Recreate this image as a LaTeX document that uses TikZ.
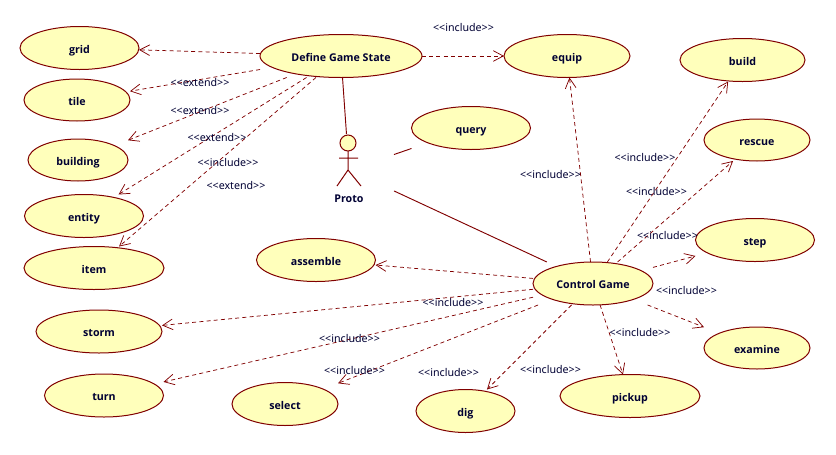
\documentclass[tikz,border=0pt]{standalone}
\usepackage{fontspec}
\setmainfont{Noto Sans}
\newfontfamily\ucfont{Open Sans}
\usetikzlibrary{arrows.meta,shapes.geometric}
\definecolor{umlline}{HTML}{800000}
\definecolor{umlfill}{HTML}{FFFFBB}
\definecolor{umltext}{HTML}{000033}
\tikzset{
  x=0.75pt,y=-0.75pt,
  usecase/.style={shape=ellipse,draw=umlline,fill=umlfill,line width=0.75pt,inner sep=0pt,outer sep=0pt,font=\ucfont\fontsize{8}{10}\selectfont\bfseries,text=umltext,text height=8pt,text depth=0.5pt},
  clipbox/.style={shape=rectangle,inner sep=0pt,outer sep=0pt},
  dep/.style={draw=umlline,line width=0.55pt,dash pattern=on 3pt off 2.4pt,-{Straight Barb[length=7.5pt,width=8pt,line width=0.55pt]}},
  assoc/.style={draw=umlline,line width=0.7pt},
  stereo/.style={font=\fontsize{8}{10}\selectfont,text=umltext,inner sep=0pt},
  actorline/.style={draw=umlline,line width=0.75pt},
}
\newcommand{\usecasenode}[6]{%
  \node[usecase,minimum width=#4*1.5pt,minimum height=#5*1.5pt] (#1) at (#2,#3) {#6};
  \node[clipbox,minimum width=#4*1.5pt,minimum height=#5*1.5pt] (#1-box) at (#2,#3) {};
}
\newcommand{\stereotype}[3]{\node[stereo] at (#1,#2) {<{}<#3>{}>};}
\begin{document}
\begin{tikzpicture}
\useasboundingbox (0,0) rectangle (836,454);
\usecasenode{grid}{79.5}{48}{59.5}{21.5}{grid}
\usecasenode{tile}{77}{100}{53}{21}{tile}
\usecasenode{building}{78}{160}{50}{21}{building}
\usecasenode{entity}{84}{216}{59.5}{21.5}{entity}
\usecasenode{item}{94}{268}{70}{21.5}{item}
\usecasenode{assemble}{316}{260}{59.5}{21.5}{assemble}
\usecasenode{storm}{99}{331.5}{63}{21.5}{storm}
\usecasenode{turn}{104}{395.5}{59.5}{21.5}{turn}
\usecasenode{select}{285}{404}{53}{21.5}{select}
\usecasenode{dig}{465.5}{411}{49.5}{21.5}{dig}
\usecasenode{pickup}{630}{396}{70}{21.5}{pickup}
\usecasenode{examine}{757}{348}{53}{21}{examine}
\usecasenode{step}{755}{240}{59.5}{21.5}{step}
\usecasenode{control}{593}{283.5}{60}{21.5}{Control Game}
\usecasenode{rescue}{757}{140}{53}{21}{rescue}
\usecasenode{build}{742.5}{60}{62.5}{21.5}{build}
\usecasenode{equip}{567}{56}{63}{21.5}{equip}
\usecasenode{query}{471}{128}{59.5}{21.5}{query}
\usecasenode{define}{341}{56}{81}{21.5}{Define Game State}
% actor
\node[clipbox,minimum width=67.5pt,minimum height=54pt] (proto) at (349,170) {};
\node[circle,draw=umlline,fill=umlfill,line width=0.75pt,minimum size=12pt,inner sep=0pt,outer sep=0pt] (head) at (348,143) {};
\coordinate (hip) at (348,170);
\coordinate (armL) at (339,158);
\coordinate (armR) at (358,158);
\coordinate (footL) at (337,186);
\coordinate (footR) at (361,186);
\draw[actorline] (head.south) -- (hip) (armL) -- (armR) (footL) -- (hip) -- (footR);
\node[font=\ucfont\fontsize{8}{10}\selectfont\bfseries,text=umltext,inner sep=0pt] (protolabel) at (349,199) {Proto};
% associations
\draw[assoc] (define-box) -- (proto);
\draw[assoc] (query-box) -- (proto);
\draw[assoc] (control-box) -- (proto);
% dependencies
\foreach \t in {grid,tile,building,entity,item,equip}
  \draw[dep] (define-box) -- (\t-box);
\foreach \t in {equip,build,rescue,step,examine,pickup,dig,select,turn,storm,assemble}
  \draw[dep] (control-box) -- (\t-box);
% stereotypes
\stereotype{463.5}{27}{include}
\stereotype{200}{82}{extend}
\stereotype{200}{110}{extend}
\stereotype{217}{137}{extend}
\stereotype{228}{162}{include}
\stereotype{236}{185}{extend}
\stereotype{550.5}{174}{include}
\stereotype{645}{157}{include}
\stereotype{656.5}{191}{include}
\stereotype{667.5}{235}{include}
\stereotype{686.5}{290}{include}
\stereotype{640}{332}{include}
\stereotype{550.5}{369}{include}
\stereotype{354.5}{370}{include}
\stereotype{448.5}{372}{include}
\stereotype{349.5}{338}{include}
\stereotype{453}{302}{include}
\end{tikzpicture}
\end{document}
